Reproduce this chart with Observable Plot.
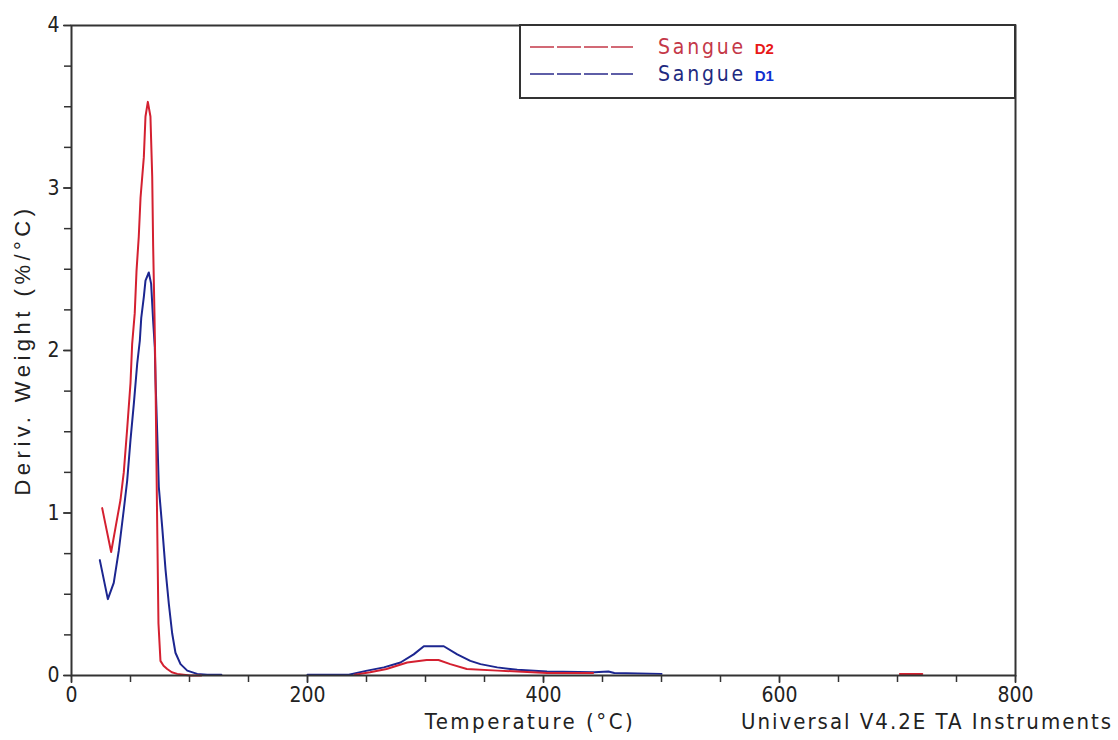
<!DOCTYPE html>
<html><head><meta charset="utf-8">
<script src="https://cdn.jsdelivr.net/npm/d3@7"></script>
<script src="https://cdn.jsdelivr.net/npm/@observablehq/plot@0.6"></script>
<style>
body{margin:0;background:#fff;}
#chart{width:1118px;height:740px;}
</style></head><body><div id="chart"></div>
<script>
const seriesNames = ["Sangue D2", "Sangue D1"];
const seriesColors = ["#d42030", "#1c2690"];

// Sangue D2 (red); null = gap in the recording
const d2Temp  = [26, 28.8, 33.6, 37.3, 41.5, 44.3, 47.2, 50, 51.4, 53.6, 55.1, 57, 58.5, 61.3, 62.7, 64.7, 66.9, 68.4, 69.2, 70.3, 71.2, 72.5, 73.7, 75.4, 78, 81.1, 85, 89.6, 95, 100.8, 110, 111,
                 240, 253, 267, 284.5, 301, 311, 321, 335, 361, 378, 403, 442, 443,
                 702, 721];
const d2Deriv = [1.03, 0.93, 0.76, 0.91, 1.08, 1.25, 1.52, 1.80, 2.04, 2.23, 2.49, 2.70, 2.94, 3.19, 3.44, 3.53, 3.44, 3.07, 2.64, 2.23, 1.82, 1.00, 0.32, 0.09, 0.06, 0.04, 0.02, 0.01, 0.005, 0, 0, null,
                 0.005, 0.02, 0.04, 0.08, 0.095, 0.095, 0.07, 0.04, 0.03, 0.025, 0.015, 0.015, null,
                 0.01, 0.01];

// Sangue D1 (blue)
const d1Temp  = [24, 30.8, 35.8, 40.1, 44.3, 47.2, 50, 52.8, 55.7, 57.9, 59.1, 61.3, 62.7, 65.5, 67.5, 69.2, 70.6, 71.2, 72.6, 74, 76.9, 79.7, 82.5, 85.3, 88.1, 92.4, 98.1, 106.5, 115, 127, 128,
                 200, 235, 250.6, 264.7, 278.8, 290, 298.6, 315.5, 326.9, 338, 346.6, 360.8, 377.7, 403, 443, 455, 460, 500];
const d1Deriv = [0.71, 0.47, 0.57, 0.77, 1.02, 1.20, 1.45, 1.67, 1.92, 2.06, 2.20, 2.33, 2.43, 2.48, 2.41, 2.18, 2.02, 1.82, 1.50, 1.16, 0.91, 0.65, 0.44, 0.26, 0.14, 0.07, 0.03, 0.01, 0.005, 0.005, null,
                 0.005, 0.005, 0.03, 0.05, 0.08, 0.13, 0.18, 0.18, 0.13, 0.09, 0.07, 0.05, 0.035, 0.025, 0.02, 0.025, 0.015, 0.01];

const xMajorTicks = [0, 200, 400, 600, 800];
const xMinorTicks = [0, 50, 100, 150, 200, 250, 300, 350, 400, 450, 500, 550, 600, 650, 700, 750, 800];
const yMajorTicks = [0, 1, 2, 3, 4];
const yMinorTicks = [0, 0.25, 0.5, 0.75, 1, 1.25, 1.5, 1.75, 2, 2.25, 2.5, 2.75, 3, 3.25, 3.5, 3.75, 4];

const xLabel = "Temperature (°C)";
const yLabel = "Deriv. Weight (%/°C)";
const creditText = "Universal V4.2E TA Instruments";

const rows = [];
d1Temp.forEach((t, i) => rows.push({T: t, v: d1Deriv[i], s: seriesNames[1]}));
d2Temp.forEach((t, i) => rows.push({T: t, v: d2Deriv[i], s: seriesNames[0]}));

const FONT = "'Liberation Sans Narrow', 'DejaVu Sans Condensed', 'Liberation Sans', sans-serif";

const chart = Plot.plot({
  width: 1118,
  height: 740,
  marginLeft: 71,
  marginRight: 103,
  marginTop: 25,
  marginBottom: 65,
  style: {fontFamily: FONT, fontSize: "21px", color: "#222", background: "#fff"},
  x: {domain: [0, 800]},
  y: {domain: [0, 4]},
  color: {domain: seriesNames, range: seriesColors},
  marks: [
    Plot.axisX(xMinorTicks, {tickSize: 7, tickFormat: () => "", label: null, stroke: "#333", strokeWidth: 1.5}),
    Plot.axisX(xMajorTicks, {tickSize: 8, tickPadding: 4, tickFormat: d3.format("d"), label: null, stroke: "#333", strokeWidth: 1.5, fill: "#222", fontSize: 21}),
    Plot.axisY(yMinorTicks, {tickSize: 7, tickFormat: () => "", label: null, stroke: "#333", strokeWidth: 1.5}),
    Plot.axisY(yMajorTicks, {tickSize: 8, tickPadding: 4, tickFormat: d3.format("d"), label: null, stroke: "#333", strokeWidth: 1.5, fill: "#222", fontSize: 21}),
    Plot.line(rows, {x: "T", y: "v", z: "s", stroke: "s", strokeWidth: 2, curve: "linear"}),
    Plot.frame({stroke: "#333", strokeWidth: 2})
  ]
});

const svg = d3.select(chart);

// axis titles
svg.append("text")
  .attr("x", 530).attr("y", 729)
  .attr("text-anchor", "middle")
  .style("font-family", FONT).style("font-size", "22px").style("letter-spacing", "2.5px")
  .attr("fill", "#222").text(xLabel);
svg.append("text")
  .attr("x", 1113).attr("y", 729)
  .attr("text-anchor", "end")
  .style("font-family", FONT).style("font-size", "22px").style("letter-spacing", "2px")
  .attr("fill", "#222").text(creditText);
svg.append("text")
  .attr("transform", "translate(30,350) rotate(-90)")
  .attr("text-anchor", "middle")
  .style("font-family", "'Liberation Sans', Arial, sans-serif").style("font-size", "22px").style("letter-spacing", "4.5px")
  .attr("fill", "#222").text(yLabel);

// legend box (top-right, attached to frame)
const lg = svg.append("g").attr("text-anchor", "start");
lg.append("rect").attr("x", 520).attr("y", 25).attr("width", 495).attr("height", 73)
  .attr("fill", "#fff").attr("stroke", "#333").attr("stroke-width", 2);
const legendRows = [
  {name: "Sangue", tag: "D2", line: "#c43848", text: "#c43848", tagColor: "#e81818", y: 47},
  {name: "Sangue", tag: "D1", line: "#2a2a8a", text: "#1e2a80", tagColor: "#1030d0", y: 74}
];
legendRows.forEach(r => {
  lg.append("line").attr("x1", 530).attr("x2", 633).attr("y1", r.y).attr("y2", r.y)
    .attr("stroke", r.line).attr("stroke-width", 1.5).attr("stroke-dasharray", "24,3");
  const t = lg.append("text").attr("x", 658).attr("y", r.y + 7).attr("text-anchor", "start")
    .style("font-family", FONT).style("font-size", "21px").style("letter-spacing", "2.8px")
    .attr("fill", r.text);
  t.append("tspan").text(r.name + " ");
  t.append("tspan").attr("fill", r.tagColor).style("font-weight", "bold")
    .style("font-family", "'Liberation Sans', Arial, sans-serif").style("font-size", "15px").style("letter-spacing", "0px").text(r.tag);
});

document.getElementById("chart").appendChild(chart);
</script></body></html>
